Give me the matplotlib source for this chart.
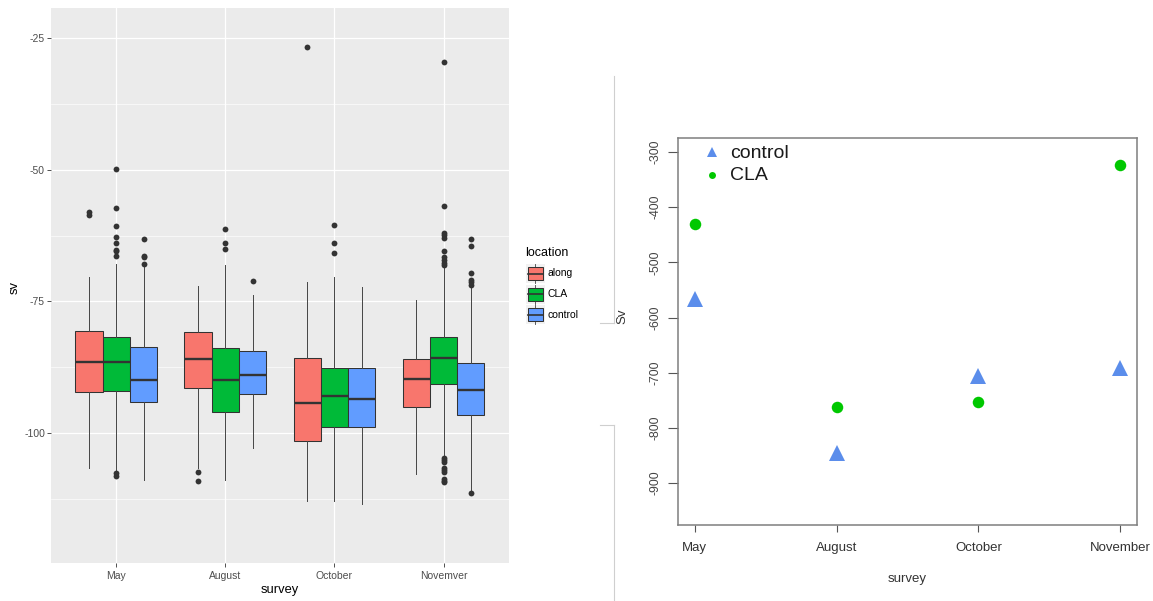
import matplotlib
matplotlib.use("Agg")
import matplotlib.pyplot as plt
from matplotlib.patches import Rectangle
from matplotlib.lines import Line2D

# ---------------- data: left panel (box plot stats) ----------------
surveys_left = ["May", "August", "October", "Novemver"]
locations = ["along", "CLA", "control"]
loc_colors = ["#F8766D", "#00BA38", "#619CFF"]

along_q1 = [-92.3, -91.4, -101.5, -95.1]
along_med = [-86.6, -85.9, -94.4, -89.7]
along_q3 = [-80.7, -80.9, -85.8, -86.0]
along_lo = [-106.6, -106.6, -113.0, -107.8]
along_hi = [-70.3, -72.0, -71.4, -74.8]
along_out = [[-58.0, -58.5], [-107.5, -109.2], [-26.6], []]

cla_q1 = [-92.0, -96.0, -98.9, -90.7]
cla_med = [-86.5, -90.0, -93.0, -85.8]
cla_q3 = [-81.8, -83.9, -87.6, -81.8]
cla_lo = [-107.0, -108.9, -113.0, -104.4]
cla_hi = [-67.8, -68.0, -70.4, -68.6]
cla_out = [[-49.8, -57.3, -60.7, -62.8, -63.9, -65.2, -65.4, -66.3, -107.7, -108.2],
           [-61.3, -63.8, -65.0],
           [-60.4, -63.8, -65.7],
           [-29.5, -56.8, -61.9, -62.3, -63.0, -65.4, -66.6, -67.1, -67.6, -68.1,
            -104.7, -105.2, -105.6, -106.6, -107.0, -107.4, -108.8, -109.1, -109.4]]

ctrl_q1 = [-94.2, -92.6, -98.9, -96.6]
ctrl_med = [-89.9, -88.9, -93.6, -91.9]
ctrl_q3 = [-83.7, -84.4, -87.7, -86.7]
ctrl_lo = [-108.9, -102.8, -113.6, -111.1]
ctrl_hi = [-68.5, -73.7, -72.2, -72.5]
ctrl_out = [[-63.1, -66.3, -66.6, -67.8], [-71.1], [], [-63.1, -64.5, -69.5, -70.9, -71.4, -71.8, -111.5]]

left_yticks = [-25, -50, -75, -100]

# ---------------- data: right panel ----------------
surveys_right = ["May", "August", "October", "November"]
control_sv = [-567, -845, -706, -692]
cla_sv = [-431, -762, -753, -323]
right_yticks = [-300, -400, -500, -600, -700, -800, -900]

# ---------------- figure ----------------
W, H = 1153, 601
fig = plt.figure(figsize=(W / 100, H / 100), dpi=100)
fig.patch.set_facecolor("white")
FONT = "Liberation Sans"
plt.rcParams["font.family"] = [FONT, "DejaVu Sans"]


def fx(x):
    return x / W


def fy(y):
    return 1 - y / H


# ======== left panel (ggplot style) ========
lx0, lx1, ly0, ly1 = 50.8, 509.0, 8.0, 563.3
axL = fig.add_axes([fx(lx0), fy(ly1), fx(lx1 - lx0), (ly1 - ly0) / H])
axL.set_facecolor("#EBEBEB")
for s in axL.spines.values():
    s.set_visible(False)
axL.set_xlim(0.4, 4.6)
axL.set_ylim(-124.8, -19.2)

# grid
for v in [-37.5, -62.5, -87.5, -112.5]:
    axL.axhline(v, color="white", lw=0.45, zorder=0)
for v in left_yticks:
    axL.axhline(v, color="white", lw=0.9, zorder=0)
for i in range(len(surveys_left)):
    axL.axvline(i + 1, color="white", lw=0.9, zorder=0)

groups = [
    (along_q1, along_med, along_q3, along_lo, along_hi, along_out),
    (cla_q1, cla_med, cla_q3, cla_lo, cla_hi, cla_out),
    (ctrl_q1, ctrl_med, ctrl_q3, ctrl_lo, ctrl_hi, ctrl_out),
]
offsets = [-0.25, 0.0, 0.25]
for g, (q1, med, q3, lo, hi, out) in enumerate(groups):
    stats = []
    for i in range(len(surveys_left)):
        stats.append(dict(med=med[i], q1=q1[i], q3=q3[i], whislo=lo[i], whishi=hi[i],
                          fliers=out[i]))
    pos = [i + 1 + offsets[g] for i in range(len(surveys_left))]
    axL.bxp(stats, positions=pos, widths=0.25, patch_artist=True, showcaps=False,
            manage_ticks=False,
            boxprops=dict(facecolor=loc_colors[g], edgecolor="#333333", linewidth=0.75),
            whiskerprops=dict(color="#444444", linewidth=0.7),
            medianprops=dict(color="#333333", linewidth=1.7, solid_capstyle="butt"),
            flierprops=dict(marker="o", markersize=4.2, markerfacecolor="#333333",
                            markeredgecolor="#333333", markeredgewidth=0),
            zorder=2)

axL.set_xticks(range(1, len(surveys_left) + 1))
axL.set_xticklabels(surveys_left)
axL.set_yticks(left_yticks)
axL.set_yticklabels([str(v) for v in left_yticks])
axL.tick_params(axis="both", colors="#333333", labelcolor="#4D4D4D", labelsize=7.5,
                length=2.7, width=0.6)
axL.tick_params(axis="y", pad=1.5)
axL.tick_params(axis="x", pad=2.5)

fig.text(fx(15), fy(287), "sv", rotation=90, ha="center", va="center", fontsize=9.3,
         color="black")
fig.text(fx(280), fy(590.5), "survey", ha="center", va="center", fontsize=9.3, color="black")

# legend (ggplot style)
fig.text(fx(525), fy(253), "location", ha="left", va="center", fontsize=9, color="black")
key_centers = [273.5, 294.0, 314.5]
for k, (name, col) in enumerate(zip(locations, loc_colors)):
    cy = key_centers[k]
    fig.add_artist(Rectangle((fx(525.5), fy(cy + 9.5)), 19 / W, 19 / H,
                             transform=fig.transFigure, facecolor="#F2F2F2",
                             edgecolor="none", zorder=1))
    fig.add_artist(Line2D([fx(535), fx(535)], [fy(cy - 9.5), fy(cy + 9.5)],
                          transform=fig.transFigure, color="#444444", lw=0.6, zorder=2))
    fig.add_artist(Rectangle((fx(527.5), fy(cy + 6.5)), 15 / W, 13 / H,
                             transform=fig.transFigure, facecolor=col,
                             edgecolor="#333333", lw=0.75, zorder=3))
    fig.add_artist(Line2D([fx(527.5), fx(542.5)], [fy(cy), fy(cy)],
                          transform=fig.transFigure, color="#333333", lw=1.2, zorder=4))
    fig.text(fx(548), fy(cy), name, ha="left", va="center", fontsize=7.5, color="black")

# separator lines between pictures
sep = "#CFCFCF"
fig.add_artist(Line2D([fx(613.5), fx(613.5)], [fy(76), fy(323)], transform=fig.transFigure,
                      color=sep, lw=0.8))
fig.add_artist(Line2D([fx(600), fx(613.5)], [fy(323), fy(323)], transform=fig.transFigure,
                      color=sep, lw=0.8))
fig.add_artist(Line2D([fx(600), fx(613.5)], [fy(425), fy(425)], transform=fig.transFigure,
                      color=sep, lw=0.8))
fig.add_artist(Line2D([fx(613.5), fx(613.5)], [fy(425), fy(601)], transform=fig.transFigure,
                      color=sep, lw=0.8))

# ======== right panel (base R style) ========
rx0, rx1, ry0, ry1 = 677.7, 1137.3, 137.7, 525.0
axR = fig.add_axes([fx(rx0), fy(ry1), fx(rx1 - rx0), (ry1 - ry0) / H])
axR.set_facecolor("white")
for s in axR.spines.values():
    s.set_color("#7F7F7F")
    s.set_linewidth(1.1)
xr = list(range(1, len(surveys_right) + 1))
axR.set_xlim(0.88, 4.12)
axR.set_ylim(-976, -274)

axR.plot(xr, control_sv, linestyle="none", marker="^", markersize=11,
         color="#5B8DEB", markeredgewidth=0, zorder=3)
axR.plot(xr, cla_sv, linestyle="none", marker="o", markersize=8.3,
         color="#00C800", markeredgewidth=0, zorder=3)

axR.set_xticks(xr)
axR.set_xticklabels(surveys_right)
axR.set_yticks(right_yticks)
axR.set_yticklabels([str(v) for v in right_yticks], rotation=90, va="center")
axR.tick_params(axis="y", colors="#555555", labelcolor="#444444", labelsize=8.8,
                length=7, width=0.8, pad=5)
axR.tick_params(axis="x", colors="#555555", labelcolor="#333333", labelsize=9.5,
                length=5, width=0.8, pad=7)

fig.text(fx(907), fy(579), "survey", ha="center", va="center", fontsize=9.5, color="#333333")
fig.text(fx(622), fy(316), "Sv", rotation=90, ha="center", va="center", fontsize=9.5,
         color="#333333")

# right legend (no box)
fig.add_artist(Line2D([fx(712)], [fy(151.5)], transform=fig.transFigure, marker="^",
                      markersize=7.5, color="#5B8DEB", markeredgewidth=0, linestyle="none"))
fig.add_artist(Line2D([fx(711.7)], [fy(175)], transform=fig.transFigure, marker="o",
                      markersize=5, color="#00C800", markeredgewidth=0, linestyle="none"))
fig.text(fx(730), fy(154), "control", ha="left", va="center", fontsize=14, color="#1A1A1A")
fig.text(fx(730), fy(175), "CLA", ha="left", va="center", fontsize=14, color="#1A1A1A")

fig.savefig("out.png", dpi=100, facecolor="white")
